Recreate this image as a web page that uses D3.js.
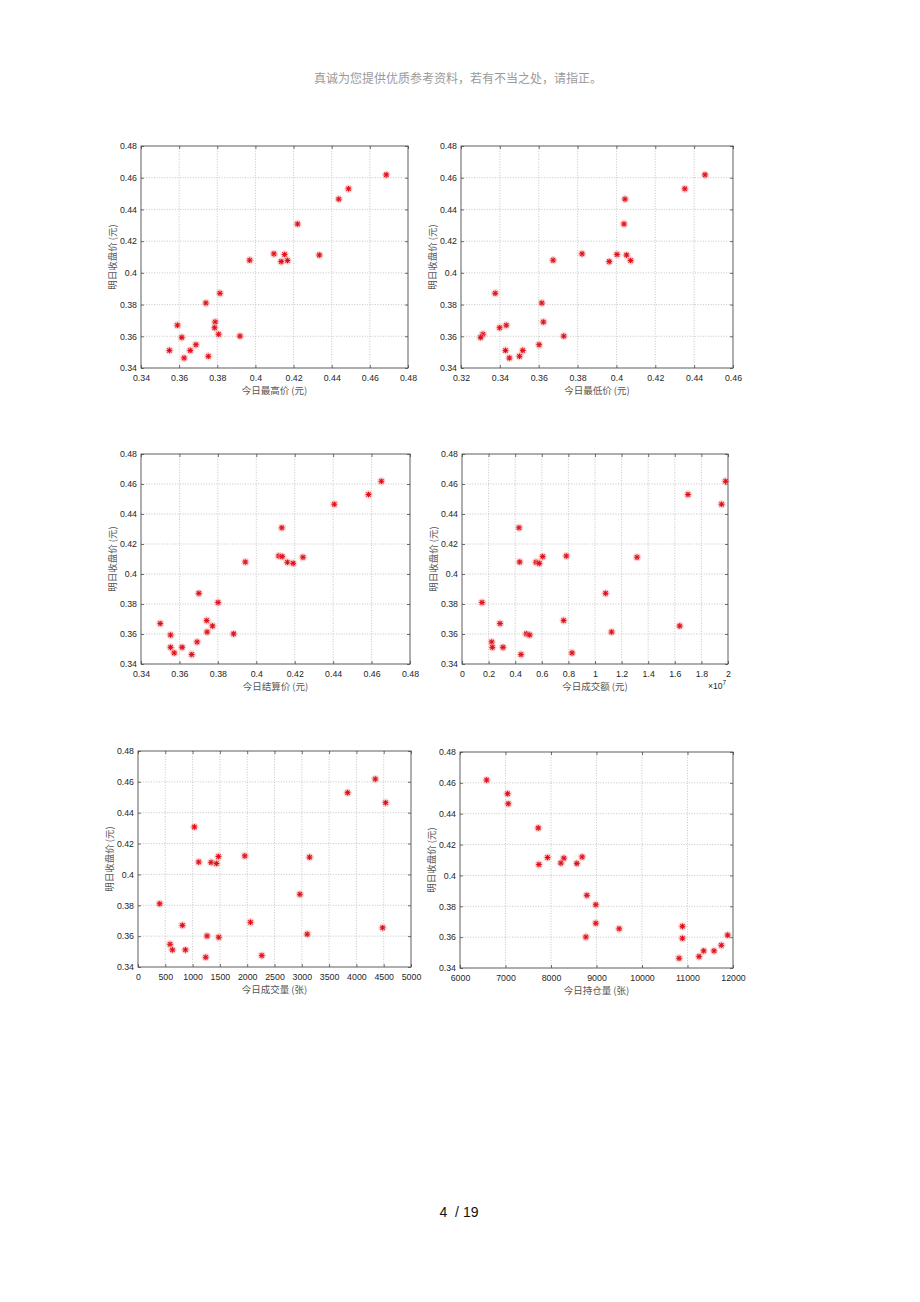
<!DOCTYPE html>
<html><head><meta charset="utf-8">
<script src="https://cdn.jsdelivr.net/npm/d3@7"></script>
<style>body{margin:0;background:#fff}svg{display:block}</style>
</head><body>
<script>
// ---- data (one entry per trading day) ----
const nextClose = [0.4618,0.4530,0.4465,0.4308,0.4120,0.4116,0.4112,0.4080,0.4078,0.4071,0.3871,0.3810,0.3690,0.3670,0.3654,0.3613,0.3601,0.3593,0.3547,0.3511,0.3511,0.3474,0.3463];
const todayHigh = [0.4686,0.4488,0.4437,0.4221,0.4097,0.4153,0.4335,0.3970,0.4168,0.4135,0.3814,0.3740,0.3789,0.3591,0.3786,0.3807,0.3919,0.3614,0.3688,0.3549,0.3658,0.3753,0.3626];
const todayLow = [0.4456,0.4352,0.4044,0.4039,0.3823,0.4003,0.4052,0.3674,0.4073,0.3963,0.3376,0.3616,0.3624,0.3433,0.3399,0.3313,0.3729,0.3301,0.3602,0.3429,0.3518,0.3501,0.3449];
const todaySettle = [0.4651,0.4584,0.4406,0.4133,0.4117,0.4135,0.4243,0.3943,0.4162,0.4192,0.3701,0.3801,0.3742,0.3500,0.3772,0.3744,0.3882,0.3554,0.3692,0.3554,0.3614,0.3573,0.3664];
const todayAmount = [19820000,16990000,19520000,4286000,7845000,6065000,13160000,4336000,5564000,5815000,10800000,1504000,7644000,2857000,16370000,11250000,4837000,5088000,2231000,2281000,3083000,8271000,4436000];
const todayVolume = [4346,3839,4535,1033,1956,1473,3142,1112,1339,1437,2965,397,2060,813,4480,3099,1265,1479,587,630,868,2268,1241];
const todayOpenInt = [6585,7046,7061,7720,8685,7924,8283,8217,8568,7734,8788,8985,8985,10888,9498,11883,8766,10888,11744,11356,11583,11254,10815];

const yTicks = [0.34,0.36,0.38,0.40,0.42,0.44,0.46,0.48];
const xTicksHigh = [0.34,0.36,0.38,0.40,0.42,0.44,0.46,0.48];
const xTicksLow = [0.32,0.34,0.36,0.38,0.40,0.42,0.44,0.46];
const xTicksSettle = [0.34,0.36,0.38,0.40,0.42,0.44,0.46,0.48];
const xTicksAmount = [0,2e6,4e6,6e6,8e6,1e7,1.2e7,1.4e7,1.6e7,1.8e7,2e7];
const xTicksVolume = [0,500,1000,1500,2000,2500,3000,3500,4000,4500,5000];
const xTicksOpenInt = [6000,7000,8000,9000,10000,11000,12000];

const yLabel = "明日收盘价 (元)";
const xLabels = ["今日最高价 (元)","今日最低价 (元)","今日结算价 (元)","今日成交额 (元)","今日成交量 (张)","今日持仓量 (张)"];
const headerText = "真诚为您提供优质参考资料，若有不当之处，请指正。";
const pageText = "4  / 19";

// ---- layout ----
const W = 920, H = 1302;
const svg = d3.select("body").append("svg").attr("width", W).attr("height", H);
svg.append("rect").attr("width", W).attr("height", H).attr("fill", "#fff");

svg.append("text").attr("x", 458).attr("y", 83).attr("text-anchor", "middle")
  .attr("font-family", "'Noto Sans CJK SC'").attr("font-size", 12).attr("fill", "#9a9a9a")
  .text(headerText);
svg.append("text").attr("x", 459).attr("y", 1217).attr("text-anchor", "middle")
  .attr("font-family", "'Liberation Sans', Arial").attr("font-size", 14).attr("fill", "#111")
  .style("white-space", "pre")
  .text(pageText);

const fmt = v => (+v.toFixed(6)).toString();

const panels = [
  {xs: todayHigh,    ticks: xTicksHigh,    domain: [0.34,0.48], label: xLabels[0], box: [141,146,408,368], tf: fmt},
  {xs: todayLow,     ticks: xTicksLow,     domain: [0.32,0.46], label: xLabels[1], box: [461,146,733,368], tf: fmt},
  {xs: todaySettle,  ticks: xTicksSettle,  domain: [0.34,0.48], label: xLabels[2], box: [141,454,410,664], tf: fmt},
  {xs: todayAmount,  ticks: xTicksAmount,  domain: [0,2e7],     label: xLabels[3], box: [462,454,728,664], tf: v => fmt(v/1e7), exp: true},
  {xs: todayVolume,  ticks: xTicksVolume,  domain: [0,5000],    label: xLabels[4], box: [138,751,411,967], tf: fmt},
  {xs: todayOpenInt, ticks: xTicksOpenInt, domain: [6000,12000],label: xLabels[5], box: [460,752,733,968], tf: fmt}
];

const frameColor = "#4d4d4d", gridColor = "#b8b8b8", tickColor = "#262626";
const tickFont = "'Liberation Sans', Arial, sans-serif";

panels.forEach(p => {
  const [l, t, r, b] = p.box;
  const x = d3.scaleLinear().domain(p.domain).range([l, r]);
  const y = d3.scaleLinear().domain([0.34, 0.48]).range([b, t]);
  const g = svg.append("g");

  // grid
  g.append("g").selectAll("line").data(p.ticks.slice(1, -1)).join("line")
    .attr("x1", d => x(d)).attr("x2", d => x(d)).attr("y1", t).attr("y2", b)
    .attr("stroke", gridColor).attr("stroke-width", 0.8).attr("stroke-dasharray", "1,1.6");
  g.append("g").selectAll("line").data(yTicks.slice(1, -1)).join("line")
    .attr("y1", d => y(d)).attr("y2", d => y(d)).attr("x1", l).attr("x2", r)
    .attr("stroke", gridColor).attr("stroke-width", 0.8).attr("stroke-dasharray", "1,1.6");

  // axes (ticks inward) via d3 axes
  const xb = d3.axisBottom(x).tickValues(p.ticks).tickFormat(p.tf).tickSizeInner(-3).tickSizeOuter(0).tickPadding(7);
  const yl = d3.axisLeft(y).tickValues(yTicks).tickFormat(fmt).tickSizeInner(-3).tickSizeOuter(0).tickPadding(4);
  const xt = d3.axisTop(x).tickValues(p.ticks).tickFormat("").tickSizeInner(-3).tickSizeOuter(0);
  const yr = d3.axisRight(y).tickValues(yTicks).tickFormat("").tickSizeInner(-3).tickSizeOuter(0);

  [[xb, `translate(0,${b})`], [yl, `translate(${l},0)`], [xt, `translate(0,${t})`], [yr, `translate(${r},0)`]].forEach(([ax, tr]) => {
    const a = g.append("g").attr("transform", tr).call(ax);
    a.select(".domain").remove();
    a.selectAll("line").attr("stroke", frameColor).attr("stroke-width", 0.8);
    a.selectAll("text").attr("font-family", tickFont).attr("font-size", 8.8).attr("fill", tickColor);
  });

  // frame
  g.append("rect").attr("x", l).attr("y", t).attr("width", r - l).attr("height", b - t)
    .attr("fill", "none").attr("stroke", frameColor).attr("stroke-width", 0.9);

  // labels
  g.append("text").attr("x", (l + r) / 2).attr("y", b + 26).attr("text-anchor", "middle")
    .attr("font-family", "'Noto Sans CJK SC'").attr("font-size", 9.5).attr("fill", "#555").text(p.label);
  g.append("text").attr("transform", `translate(${l - 25},${(t + b) / 2}) rotate(-90)`).attr("text-anchor", "middle")
    .attr("font-family", "'Noto Sans CJK SC'").attr("font-size", 9.5).attr("fill", "#555").text(yLabel);

  if (p.exp) {
    const e = g.append("text").attr("x", r - 20).attr("y", b + 25)
      .attr("font-family", tickFont).attr("font-size", 8.6).attr("fill", tickColor);
    e.append("tspan").text("×10");
    e.append("tspan").attr("dy", -4).attr("font-size", 6.5).text("7");
  }

  // markers: asterisks
  const pts = p.xs.map((v, i) => [x(v), y(nextClose[i])]);
  const m = g.append("g").selectAll("g").data(pts).join("g")
    .attr("transform", d => `translate(${d[0]},${d[1]})`);
  m.append("circle").attr("r", 4.2).attr("fill", "#f3a5a5").attr("opacity", 0.45);
  const rr = 2.8, dd = 2.1;
  const segs = [[-rr,0,rr,0],[0,-rr,0,rr],[-dd,-dd,dd,dd],[-dd,dd,dd,-dd]];
  segs.forEach(s => {
    m.append("line").attr("x1", s[0]).attr("y1", s[1]).attr("x2", s[2]).attr("y2", s[3])
      .attr("stroke", "#e0101a").attr("stroke-width", 1.1);
  });
});
</script>
</body></html>
